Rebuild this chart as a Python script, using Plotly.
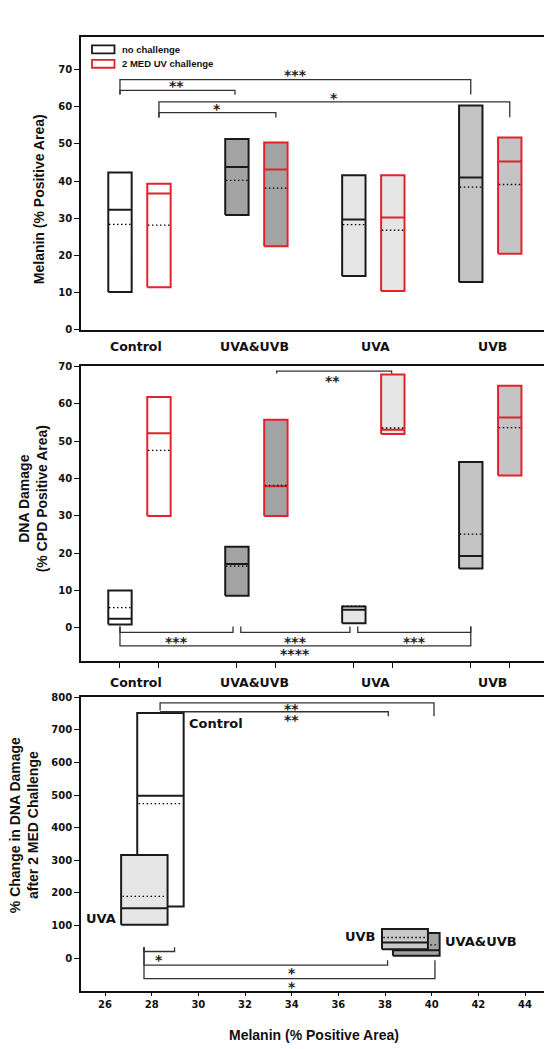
import plotly.graph_objects as go

# ---------------- data ----------------
categories = ["Control", "UVA&UVB", "UVA", "UVB"]
group_fill = ["#ffffff", "#a3a3a3", "#e6e6e6", "#c4c4c4"]

# Panel A: melanin (% positive area)
mel_noch_q1 = [10.2, 30.9, 14.5, 12.9]
mel_noch_q3 = [42.3, 51.3, 41.6, 60.3]
mel_noch_med = [32.3, 43.8, 29.7, 41.0]
mel_noch_mean = [28.4, 40.2, 28.3, 38.4]
mel_ch_q1 = [11.5, 22.5, 10.5, 20.5]
mel_ch_q3 = [39.3, 50.4, 41.6, 51.7]
mel_ch_med = [36.7, 43.1, 30.2, 45.3]
mel_ch_mean = [28.2, 38.1, 26.8, 39.1]

# Panel B: DNA damage (% CPD positive area)
dna_noch_q1 = [0.9, 8.6, 1.2, 15.9]
dna_noch_q3 = [10.0, 21.7, 5.7, 44.4]
dna_noch_med = [2.4, 17.1, 4.8, 19.2]
dna_noch_mean = [5.4, 16.5, 5.8, 25.1]
dna_ch_q1 = [29.9, 29.9, 51.9, 40.8]
dna_ch_q3 = [61.8, 55.7, 67.8, 64.8]
dna_ch_med = [52.1, 37.9, 53.0, 56.3]
dna_ch_mean = [47.5, 38.1, 53.5, 53.6]

# Panel C: % change in DNA damage vs melanin (drawing order)
chg_cats = ["Control", "UVA", "UVA&UVB", "UVB"]
chg_fill = ["#ffffff", "#e6e6e6", "#a3a3a3", "#c8c8c8"]
chg_mel_lo = [27.38, 26.69, 38.34, 37.87]
chg_mel_hi = [29.37, 28.68, 40.34, 39.84]
chg_q1 = [158, 102, 7, 27]
chg_q3 = [752, 316, 77, 89]
chg_med = [498, 153, 24, 48]
chg_mean = [474, 189, 40.5, 63]
chg_label_x = [29.5, 26.55, 40.5, 37.7]
chg_label_y = [720, 120, 52, 67]
chg_label_anchor = ["left", "right", "left", "right"]

# significance brackets: (x_start, x_end, y_line, y_end_start, y_end_end, label, label_x, label_y)
# positions for A/B in slot units: no-challenge = 3*g, challenge = 3*g + 1
sig_A = [
    (0, 9, 67.3, 63.4, 63.3, "***", 4.5, 68.5),
    (0, 2.95, 64.4, 63.2, 63.2, "**", 1.45, 65.5),
    (1, 10, 61.3, 57.1, 57.2, "*", 5.5, 62.4),
    (1, 4, 58.4, 57.1, 57.1, "*", 2.5, 59.3),
]
sig_B = [
    (4.02, 6.97, 68.7, 68.1, 68.1, "**", 5.45, 66.1),
    (0, 2.9, -1.24, 0.35, 0.35, "***", 1.45, -3.7),
    (3.1, 5.9, -1.24, 0.35, 0.35, "***", 4.5, -3.7),
    (6.1, 9, -1.24, 0.35, 0.35, "***", 7.55, -3.7),
    (0, 9, -4.86, 0.35, 0.35, "****", 4.5, -6.9),
]
sig_C = [
    (28.36, 40.1, 783, 760, 742, "**", 34.0, 764),
    (28.36, 38.14, 756, 756, 742, "**", 34.0, 732),
    (27.67, 28.98, 20, 33, 33, "*", 28.32, -5),
    (27.67, 38.11, -22, 33, -7, "*", 34.0, -46),
    (27.67, 40.14, -63, 33, -7, "*", 34.0, -88),
]

# ---------------- figure ----------------
W, H = 552, 1049
FONT_T = "Liberation Sans"
FONT_V = "DejaVu Sans"
BLACK = "#1a1a1a"
RED = "#e3222b"
BW = 0.6

fig = go.Figure()


def add_box(x0, x1, q1, q3, med, mean, fill, edge, xa, ya, inset=0.03):
    fig.add_trace(go.Scatter(x=[x0, x1, x1, x0, x0], y=[q1, q1, q3, q3, q1], mode="lines",
                             fill="toself", fillcolor=fill, line=dict(color=edge, width=2),
                             xaxis=xa, yaxis=ya, showlegend=False, hoverinfo="skip"))
    fig.add_trace(go.Scatter(x=[x0, x1], y=[med, med], mode="lines",
                             line=dict(color=edge, width=2),
                             xaxis=xa, yaxis=ya, showlegend=False, hoverinfo="skip"))
    w = x1 - x0
    fig.add_trace(go.Scatter(x=[x0 + inset * w, x1 - inset * w], y=[mean, mean], mode="lines",
                             line=dict(color="black", width=1.3, dash="1.5px,2.5px"),
                             xaxis=xa, yaxis=ya, showlegend=False, hoverinfo="skip"))


def add_sig(brs, xa, ya, fs):
    for (xs, xe, yl, ys, ye, lab, lx, ly) in brs:
        fig.add_trace(go.Scatter(x=[xs, xs, xe, xe], y=[ys, yl, yl, ye], mode="lines",
                                 line=dict(color="#333333", width=1.3),
                                 xaxis=xa, yaxis=ya, showlegend=False, hoverinfo="skip"))
        fig.add_annotation(x=lx, y=ly, xref=xa, yref=ya, text=lab, showarrow=False,
                           font=dict(family=FONT_V, size=fs, color="#222222", weight="bold"),
                           xanchor="center", yanchor="middle")


# Panel A
for g in range(4):
    add_box(3 * g - BW / 2, 3 * g + BW / 2, mel_noch_q1[g], mel_noch_q3[g], mel_noch_med[g],
            mel_noch_mean[g], group_fill[g], BLACK, "x", "y")
    add_box(3 * g + 1 - BW / 2, 3 * g + 1 + BW / 2, mel_ch_q1[g], mel_ch_q3[g], mel_ch_med[g],
            mel_ch_mean[g], group_fill[g], RED, "x", "y")
add_sig(sig_A, "x", "y", 14)

# Panel B
for g in range(4):
    add_box(3 * g - BW / 2, 3 * g + BW / 2, dna_noch_q1[g], dna_noch_q3[g], dna_noch_med[g],
            dna_noch_mean[g], group_fill[g], BLACK, "x2", "y2")
    add_box(3 * g + 1 - BW / 2, 3 * g + 1 + BW / 2, dna_ch_q1[g], dna_ch_q3[g], dna_ch_med[g],
            dna_ch_mean[g], group_fill[g], RED, "x2", "y2")
add_sig(sig_B, "x2", "y2", 14)

# Panel C
for i in range(4):
    add_box(chg_mel_lo[i], chg_mel_hi[i], chg_q1[i], chg_q3[i], chg_med[i], chg_mean[i],
            chg_fill[i], BLACK, "x3", "y3")
    fig.add_annotation(x=chg_label_x[i], y=chg_label_y[i], xref="x3", yref="y3",
                       text=chg_cats[i], showarrow=False, xanchor=chg_label_anchor[i],
                       yanchor="middle", font=dict(family=FONT_V, size=13, color="#111111", weight="bold"))
add_sig(sig_C, "x3", "y3", 14)

# category labels under panels A and B
cat_label_pos = [0.42, 3.45, 6.56, 9.55]
for xa, ypix in (("x", 337), ("x2", 676)):
    for g in range(4):
        fig.add_annotation(x=cat_label_pos[g], y=1 - ypix / H, xref=xa, yref="paper",
                           text=categories[g], showarrow=False, xanchor="center", yanchor="middle",
                           font=dict(family=FONT_V, size=12.5, color="#111111", weight="bold"))

# y-axis titles
def ytitle(lines, xpix, ycen, size=14):
    fig.add_annotation(x=xpix / W, y=1 - ycen / H, xref="paper", yref="paper",
                       text="<br>".join(lines), textangle=-90, showarrow=False,
                       xanchor="center", yanchor="middle",
                       font=dict(family=FONT_T, size=size, color="#111111", weight="bold"))

ytitle(["Melanin (% Positive Area)"], 31, 188)
ytitle(["DNA Damage", "(% CPD Positive Area)"], 25, 491, 14)
ytitle(["% Change in DNA Damage", "after 2 MED Challenge"], 16, 820, 14)

# x-axis title of panel C
fig.add_annotation(x=(73 + 538) / 2 / W, y=1 - 1032 / H, xref="paper", yref="paper",
                   text="Melanin (% Positive Area)", showarrow=False, xanchor="center", yanchor="middle",
                   font=dict(family=FONT_T, size=14, color="#111111", weight="bold"))

# legend (panel A)
legend_items = [("no challenge", BLACK), ("2 MED UV challenge", RED)]
for k, (txt, col) in enumerate(legend_items):
    y0, y1 = 32.7 + 14.6 * k, 40.7 + 14.6 * k
    fig.add_shape(type="rect", xref="paper", yref="paper", x0=84 / W, x1=106.5 / W,
                  y0=1 - y1 / H, y1=1 - y0 / H, line=dict(color=col, width=1.8), fillcolor="white")
    fig.add_annotation(x=112 / W, y=1 - (y0 + y1) / 2 / H, xref="paper", yref="paper", text=txt,
                       showarrow=False, xanchor="left", yanchor="middle",
                       font=dict(family=FONT_T, size=9.5, color="#111111", weight="bold"))

xdom = [73 / W, 538 / W]
def dom(top, bot):
    return [1 - bot / H, 1 - top / H]

axis_common = dict(showline=True, linecolor="#111111", linewidth=1.6, mirror=True,
                   showgrid=False, zeroline=False,
                   tickfont=dict(family=FONT_V, size=10, color="#111111", weight="bold"))

fig.update_layout(
    width=W, height=H, margin=dict(l=0, r=0, t=0, b=0),
    paper_bgcolor="white", plot_bgcolor="white", showlegend=False,
    xaxis=dict(domain=xdom, range=[-1.0, 10.93], anchor="y", showticklabels=False, ticks="", **axis_common),
    yaxis=dict(domain=dom(24, 320), range=[0, 78.8], anchor="x", tickvals=[0, 10, 20, 30, 40, 50, 60, 70],
               ticks="outside", ticklen=5, tickwidth=1.3, tickcolor="#111111", **axis_common),
    xaxis2=dict(domain=xdom, range=[-1.0, 10.93], anchor="y2", tickvals=[0, 1, 3, 4, 6, 7, 9, 10],
                showticklabels=False, ticks="outside", ticklen=5, tickwidth=1.3, tickcolor="#111111", **axis_common),
    yaxis2=dict(domain=dom(356, 654), range=[-8.83, 70.2], anchor="x2", tickvals=[0, 10, 20, 30, 40, 50, 60, 70],
                ticks="outside", ticklen=5, tickwidth=1.3, tickcolor="#111111", **axis_common),
    xaxis3=dict(domain=xdom, range=[24.97, 44.9], anchor="y3", tickvals=list(range(26, 45, 2)),
                ticks="outside", ticklen=4, tickwidth=1.3, tickcolor="#111111", **axis_common),
    yaxis3=dict(domain=dom(691, 987), range=[-100, 800], anchor="x3", tickvals=list(range(0, 801, 100)),
                ticks="outside", ticklen=5, tickwidth=1.3, tickcolor="#111111", **axis_common),
)

fig.write_html("out.html")
